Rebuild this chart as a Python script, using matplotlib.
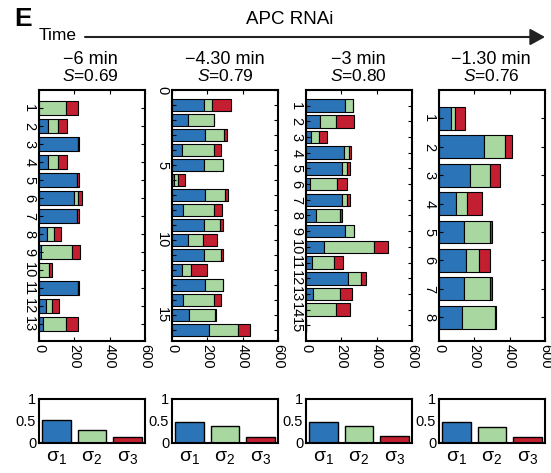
import numpy as np
import matplotlib
matplotlib.use("Agg")
from matplotlib import pyplot as plt
from matplotlib.patches import FancyArrowPatch
import matplotlib.ticker as ticker

plt.rcParams['font.family'] = ['Liberation Sans', 'DejaVu Sans']
plt.rcParams['mathtext.fontset'] = 'custom'
plt.rcParams['mathtext.rm'] = 'Liberation Sans'
plt.rcParams['mathtext.it'] = 'Liberation Sans:italic'

# ---- data -------------------------------------------------------------------
times = ["\u22126 min", "\u22124.30 min", "\u22123 min", "\u22121.30 min"]
s_values = ["0.69", "0.79", "0.80", "0.76"]

p1_blue = [0, 53, 223, 53, 216, 199, 216, 43, 9, 0, 218, 38, 24]
p1_green = [150, 56, 0, 56, 0, 23, 0, 43, 180, 58, 0, 38, 128]
p1_red = [68, 47, 5, 47, 8, 23, 8, 41, 45, 13, 8, 39, 70]

p2_blue = [181, 91, 187, 59, 183, 11, 189, 65, 183, 88, 183, 55, 187, 61, 97, 210]
p2_green = [48, 145, 110, 181, 103, 25, 110, 171, 91, 90, 93, 51, 99, 175, 147, 164]
p2_red = [105, 0, 13, 36, 0, 38, 17, 46, 13, 78, 13, 91, 0, 42, 6, 69]

p3_blue = [220, 78, 30, 214, 205, 25, 205, 57, 220, 100, 34, 239, 40, 0, 0]
p3_green = [44, 89, 42, 32, 28, 152, 28, 138, 49, 286, 127, 70, 150, 172, 0]
p3_red = [0, 106, 47, 9, 17, 53, 15, 9, 0, 78, 49, 28, 72, 76, 0]

p4_blue = [69, 252, 173, 94, 141, 150, 141, 133]
p4_green = [23, 122, 118, 64, 146, 79, 146, 184]
p4_red = [56, 38, 54, 85, 13, 60, 13, 8]

sigma_labels = ["\u03c3$_1$", "\u03c3$_2$", "\u03c3$_3$"]
sigma1 = [0.53, 0.30, 0.135]
sigma2 = [0.47, 0.39, 0.135]
sigma3 = [0.47, 0.38, 0.15]
sigma4 = [0.48, 0.36, 0.135]

panels = [(p1_blue, p1_green, p1_red),
          (p2_blue, p2_green, p2_red),
          (p3_blue, p3_green, p3_red),
          (p4_blue, p4_green, p4_red)]
sigmas = [sigma1, sigma2, sigma3, sigma4]

BLUE = "#2C74B8"
GREEN = "#A8D7A0"
RED = "#C41F30"
cols = [BLUE, GREEN, RED]

# ---- figure -----------------------------------------------------------------
W, H = 551, 473
fig = plt.figure(figsize=(W / 100, H / 100), dpi=100, facecolor="white")

def px_rect(x0, y0, x1, y1):
    return [x0 / W, 1 - y1 / H, (x1 - x0) / W, (y1 - y0) / H]

lefts = [39, 172, 306, 439]
width = 106
head_x = [90, 225, 358, 491]
ylims = [13.93, 16.7, 16.0, 8.84]
fs = 10.5

for i, (vals, sig) in enumerate(zip(panels, sigmas)):
    x0 = lefts[i]
    ax = fig.add_axes(px_rect(x0, 90, x0 + width, 341))
    n = len(vals[0])
    pos = np.arange(1, n + 1)
    left = np.zeros(n)
    for v, c in zip(vals, cols):
        v = np.array(v, dtype=float)
        ax.barh(pos, v, left=left, height=0.8, color=c,
                edgecolor="black", linewidth=0.8)
        left = left + v
    ax.set_xlim(0, 600)
    ax.set_ylim(ylims[i], 0)
    ax.xaxis.set_major_locator(ticker.FixedLocator([0, 200, 400, 600]))
    if i == 1:
        ax.yaxis.set_major_locator(ticker.FixedLocator([0, 5, 10, 15]))
        ax.yaxis.set_minor_locator(ticker.FixedLocator(pos))
    else:
        ax.yaxis.set_major_locator(ticker.FixedLocator(pos))
    ax.tick_params(which="both", direction="in", top=True, right=True,
                   length=3, width=0.8, labelsize=fs, pad=2)
    ax.tick_params(which="minor", length=3)
    for lab in ax.get_yticklabels():
        lab.set_rotation(-90)
        lab.set_va("center")
        lab.set_ha("right")
    for lab in ax.get_xticklabels():
        lab.set_rotation(-90)
        lab.set_ha("center")
        lab.set_va("top")
    for sp in ax.spines.values():
        sp.set_linewidth(1.5)

    # sigma panel
    bx = fig.add_axes(px_rect(x0, 399, x0 + width, 443))
    bx.bar([1, 2, 3], sig, width=0.82, color=cols, edgecolor="black",
           linewidth=1.0)
    bx.set_xlim(0.5, 3.5)
    bx.set_ylim(0, 1)
    bx.set_xticks([1, 2, 3])
    bx.set_xticklabels(sigma_labels, fontsize=14)
    bx.set_yticks([0, 0.5, 1])
    bx.set_yticklabels(["0", "0.5", "1"], fontsize=fs)
    bx.tick_params(axis="x", length=0, pad=4)
    bx.tick_params(axis="y", direction="in", length=0, pad=2)
    for sp in bx.spines.values():
        sp.set_linewidth(1.5)

    # headers
    cx = head_x[i] / W
    fig.text(cx, 1 - 60 / H, times[i], ha="center", va="center", fontsize=13)
    fig.text(cx, 1 - 76 / H, "$S$=" + s_values[i], ha="center", va="center",
             fontsize=12.5)

fig.text(14 / W, 1 - 19 / H, "E", ha="left", va="center", fontsize=19,
         fontweight="bold")
fig.text(290 / W, 1 - 20 / H, "APC RNAi", ha="center", va="center",
         fontsize=13.5)
fig.text(39 / W, 1 - 36 / H, "Time", ha="left", va="center", fontsize=12.5)
arrow = FancyArrowPatch((85 / W, 1 - 37 / H), (545 / W, 1 - 37 / H),
                        transform=fig.transFigure,
                        arrowstyle="-|>,head_length=0.9,head_width=0.5",
                        mutation_scale=10, linewidth=1.5, color="#222222",
                        shrinkA=0, shrinkB=0)
fig.add_artist(arrow)

fig.savefig("out.png", dpi=100, facecolor="white")
